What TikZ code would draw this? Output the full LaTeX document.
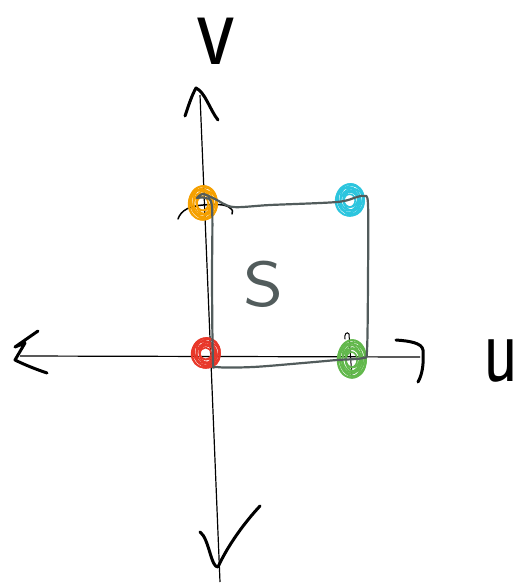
\documentclass[tikz,border=0pt]{standalone}
\usetikzlibrary{calc}
\definecolor{boxgray}{HTML}{525C5C}
\definecolor{dotorange}{HTML}{F5A000}
\definecolor{dotcyan}{HTML}{2CC5DE}
\definecolor{dotred}{HTML}{E8382A}
\definecolor{dotgreen}{HTML}{62B84C}
\tikzset{
  axis/.style={line width=1.2pt, black},
  tip/.style={line width=3pt, black, line cap=round, line join=round},
  pen/.style={line width=1.5pt, black, line cap=round},
  edge/.style={boxgray, line width=2.2pt, line cap=round, line join=round},
  scrib/.style={line width=1.6pt},
  hand/.style={font=\sffamily, inner sep=0pt}
}
% a scribbled dot: several offset loops
\newcommand\scrawl[5]{%
  \foreach \s/\dx/\dy in {1/0/0, 0.9/-1.8/1.2, 0.8/1.5/-1.8, 0.66/-0.8/2.4, 0.84/2.2/1.8,
                          0.52/0.4/-1.2, 0.94/0.8/-1.0, 0.72/-2.0/-0.6, 0.58/1.6/0.8, 0.4/-0.4/0.6}{
    \draw[#1, scrib] ({#2+\dx},{#3+\dy}) ellipse ({#4*\s} and {#5*\s});
  }%
}
\begin{document}
\begin{tikzpicture}[x=1pt, y=-1pt]
\useasboundingbox (0,0) rectangle (519,584);

% axes
\coordinate (vtop) at (200,95);
\coordinate (vbot) at (220,582);
\coordinate (uleft) at (20,356);
\coordinate (uright) at (420,357);
\draw[axis] (vtop) -- (vbot);
\draw[axis] (uleft) -- (uright);

% hand-drawn arrowheads
\draw[tip] (185,116) .. controls (189,104) and (192,95) .. (196,88)
  .. controls (205,92) and (210,110) .. (218,120);
\draw[tip] (200,532) .. controls (209,538) and (211,568) .. (218,567)
  .. controls (228,545) and (245,522) .. (260,506);
\draw[tip] (38,331) -- (15,347) -- (25,343) -- (15,360)
  .. controls (25,365) and (38,370) .. (47,373);
\draw[tip] (396,340) .. controls (410,341) and (422,343) .. (423,350)
  .. controls (424,365) and (422,375) .. (418,382);

% small pen marks
\draw[pen] (178,219) .. controls (181,210) and (190,206) .. (203,205)
  .. controls (215,204) and (226,204) .. (230,208) .. controls (233,210) and (233,212) .. (232,214);
\draw[pen, line width=1pt] (345,339) .. controls (344,334) and (347,331) .. (349,334) -- (352,378);

% corner dots
\scrawl{dotorange}{203}{203}{14}{17}
\scrawl{dotcyan}{350}{200}{14}{16}
\scrawl{dotred}{206}{353}{14}{15}
\scrawl{dotgreen}{352}{359}{14}{19}

% the square S
\draw[edge] plot[smooth, tension=0.5] coordinates {
  (197,198) (203,194) (215,199) (233,207) (270,205) (337,202) (357,197) (364,196)
  (368,204) (368,280) (367,350) (363,358) (337,360) (303,363) (253,367)
  (217,367) (213,360) (212,280) (212,207) (205,198) (197,198)};

% labels
\node[hand, font=\sffamily\fontsize{90}{90}\selectfont, yscale=1.2] (lv) at (216,41) {v};
\node[hand, font=\sffamily\fontsize{72}{72}\selectfont, yscale=1.35] (lu) at (501,361) {u};
\node[hand, boxgray, font=\sffamily\fontsize{64}{64}\selectfont, xscale=1.2] (ls) at (264,284) {S};
\end{tikzpicture}
\end{document}
